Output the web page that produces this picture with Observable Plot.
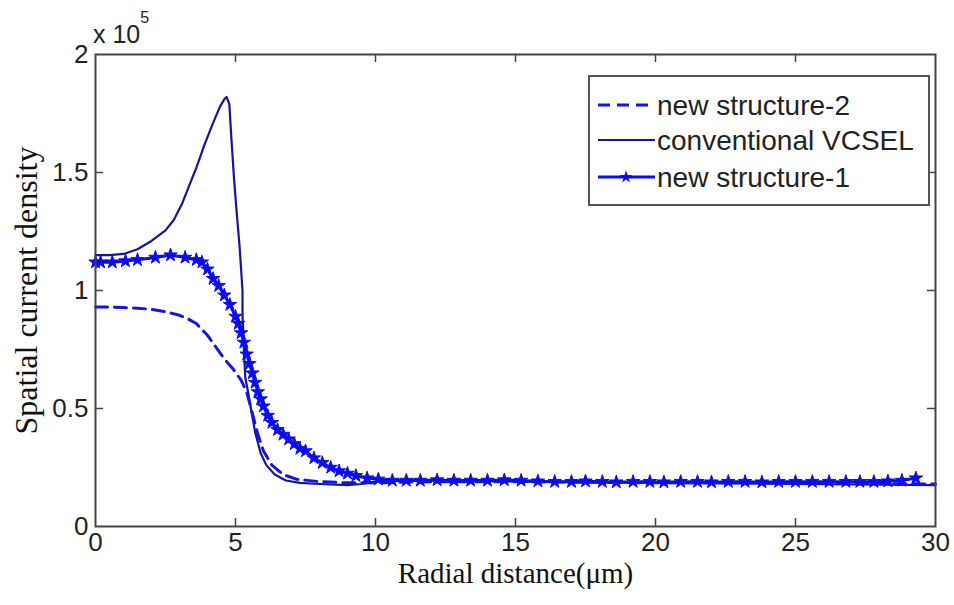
<!DOCTYPE html>
<html><head><meta charset="utf-8">
<script src="https://cdn.jsdelivr.net/npm/d3@7"></script>
<script src="https://cdn.jsdelivr.net/npm/@observablehq/plot@0.6"></script>
<style>
body{margin:0;background:#fff;}
#wrap{position:relative;width:954px;height:605px;background:#fff;}
#overlay{position:absolute;left:0;top:0;pointer-events:none;}
</style></head><body><div id="wrap"></div>
<script>
// axis ticks
const xTicks = [0, 5, 10, 15, 20, 25, 30];
const yTicks = [0, 0.5, 1, 1.5, 2];
const xLabel = "Radial distance(\u03bcm)";
const yLabel = "Spatial current density";
const yMultiplier = "x 10";
const yExponent = "5";
const seriesNames = ["new structure-2", "conventional VCSEL", "new structure-1"];
const seriesColors = ["#1414e6", "#15159c", "#0c0cf0"];

// values in units of 1e5
const ns2X = [0, 0.5, 1, 1.5, 2, 2.5, 3, 3.3, 3.6, 4.0, 4.3, 4.6, 4.9, 5.2, 5.4, 5.6, 5.8, 6.0, 6.3, 6.7, 7.2, 8, 9, 10, 12, 15, 20, 25, 30];
const ns2Y = [0.93, 0.93, 0.928, 0.925, 0.92, 0.91, 0.895, 0.88, 0.86, 0.81, 0.76, 0.71, 0.67, 0.62, 0.57, 0.48, 0.39, 0.32, 0.26, 0.22, 0.2, 0.19, 0.185, 0.185, 0.19, 0.19, 0.185, 0.185, 0.18];

const convX = [0, 0.5, 1.0, 1.5, 2.0, 2.5, 2.8, 3.1, 3.4, 3.6, 3.9, 4.2, 4.45, 4.6, 4.68, 4.78, 4.85, 4.95, 5.05, 5.15, 5.25, 5.25, 5.3, 5.35, 5.45, 5.55, 5.7, 5.9, 6.1, 6.4, 6.8, 7.3, 8, 9, 9.5, 10, 11, 13, 15, 20, 25, 30];
const convY = [1.15, 1.15, 1.155, 1.175, 1.21, 1.255, 1.30, 1.37, 1.46, 1.52, 1.62, 1.71, 1.78, 1.81, 1.82, 1.79, 1.65, 1.47, 1.32, 1.18, 1.0, 0.9, 0.75, 0.63, 0.57, 0.5, 0.4, 0.31, 0.26, 0.22, 0.195, 0.185, 0.18, 0.175, 0.18, 0.19, 0.195, 0.195, 0.19, 0.185, 0.18, 0.175];

const ns1X = [0, 0.18, 0.6, 1.07, 1.5, 2.14, 2.68, 3.2, 3.6, 3.8, 4.0, 4.2, 4.4, 4.6, 4.8, 5.0, 5.1, 5.2, 5.3, 5.4, 5.5, 5.6, 5.7, 5.8, 5.9, 6.0, 6.15, 6.3, 6.5, 6.7, 6.9, 7.1, 7.3, 7.5, 7.8, 8.1, 8.4, 8.7, 9.0, 9.3, 9.7, 10.1, 10.6, 11.1, 11.6, 12.2, 12.8, 13.4, 14.0, 14.6, 15.2, 15.8, 16.4, 17.0, 17.5, 18.1, 18.6, 19.2, 19.8, 20.3, 20.9, 21.5, 22.0, 22.6, 23.2, 23.8, 24.4, 25.0, 25.6, 26.2, 26.8, 27.3, 27.8, 28.3, 28.8, 29.3];
const ns1Y = [1.12, 1.12, 1.12, 1.125, 1.13, 1.14, 1.15, 1.14, 1.13, 1.12, 1.09, 1.05, 1.02, 0.98, 0.94, 0.89, 0.86, 0.82, 0.78, 0.73, 0.69, 0.65, 0.61, 0.57, 0.54, 0.51, 0.47, 0.44, 0.41, 0.39, 0.37, 0.35, 0.33, 0.32, 0.29, 0.27, 0.25, 0.235, 0.225, 0.215, 0.205, 0.2, 0.195, 0.195, 0.195, 0.197, 0.195, 0.195, 0.195, 0.197, 0.195, 0.192, 0.19, 0.19, 0.192, 0.19, 0.188, 0.19, 0.19, 0.188, 0.19, 0.19, 0.188, 0.19, 0.19, 0.188, 0.19, 0.19, 0.19, 0.19, 0.19, 0.19, 0.19, 0.192, 0.195, 0.205];

const ns2 = ns2X.map((x, i) => ({x, y: ns2Y[i]}));
const conv = convX.map((x, i) => ({x, y: convY[i]}));
const ns1 = ns1X.map((x, i) => ({x, y: ns1Y[i]}));

const W = 954, H = 605, mL = 95, mR = 19, mT = 54, mB = 79;
const frameH = H - mT - mB, frameW = W - mL - mR;
const tickLen = 8;
const inner = (a) => a.slice(1, -1);

const plot = Plot.plot({
  width: W, height: H,
  marginLeft: mL, marginRight: mR, marginTop: mT, marginBottom: mB,
  x: {domain: [0, 30]},
  y: {domain: [0, 2]},
  style: {fontFamily: "'Liberation Sans', Arial, sans-serif", fontSize: "26px", color: "#222", background: "#fff"},
  marks: [
    Plot.ruleX(inner(xTicks), {x: d => d, insetTop: frameH - tickLen, stroke: "#444", strokeWidth: 1.5}),
    Plot.ruleX(inner(xTicks), {x: d => d, insetBottom: frameH - tickLen, stroke: "#444", strokeWidth: 1.5}),
    Plot.ruleY(inner(yTicks), {y: d => d, insetRight: frameW - tickLen, stroke: "#444", strokeWidth: 1.5}),
    Plot.ruleY(inner(yTicks), {y: d => d, insetLeft: frameW - tickLen, stroke: "#444", strokeWidth: 1.5}),
    Plot.line(conv, {x: "x", y: "y", stroke: seriesColors[1], strokeWidth: 2.2}),
    Plot.line(ns2, {x: "x", y: "y", stroke: seriesColors[0], strokeWidth: 3, strokeDasharray: "12,7"}),
    Plot.line(ns1, {x: "x", y: "y", stroke: seriesColors[2], strokeWidth: 3}),
    Plot.dot(ns1, {x: "x", y: "y", symbol: "star", r: 4.2, fill: seriesColors[2], stroke: seriesColors[2], strokeWidth: 1}),
    Plot.frame({stroke: "#444", strokeWidth: 2}),
    Plot.axisX({ticks: xTicks, tickSize: 0, tickPadding: 6, label: null, fontSize: 26}),
    Plot.axisY({ticks: yTicks, tickSize: 0, tickPadding: 7, label: null, fontSize: 26, tickFormat: d => String(d)}),
    Plot.text([xLabel], {frameAnchor: "bottom", dy: 56, text: d => d, fontFamily: "'Liberation Serif', 'Times New Roman', serif", fontSize: 29, fill: "#111"}),
    Plot.text([yLabel], {frameAnchor: "left", textAnchor: "middle", dx: -69, rotate: -90, text: d => d, fontFamily: "'Liberation Serif', 'Times New Roman', serif", fontSize: 32, fill: "#111"})
  ]
});
document.getElementById("wrap").appendChild(plot);

// overlay: multiplier + legend
const svg = d3.select("#wrap").append("svg").attr("id", "overlay").attr("width", W).attr("height", H);
const mult = svg.append("text").attr("x", 93).attr("y", 43)
  .attr("font-family", "'Liberation Sans', Arial, sans-serif").attr("font-size", 25).attr("fill", "#222");
mult.append("tspan").text(yMultiplier);
mult.append("tspan").attr("dy", -20).attr("font-size", 16).text(yExponent);

const lg = svg.append("g").attr("transform", "translate(589,76)");
lg.append("rect").attr("width", 340).attr("height", 129).attr("fill", "#fff").attr("stroke", "#555").attr("stroke-width", 2);
const rowsY = [29, 64, 101];
seriesNames.forEach((name, i) => {
  const g = lg.append("g").attr("transform", `translate(0,${rowsY[i]})`);
  const ln = g.append("line").attr("x1", 9).attr("x2", 66).attr("y1", 0).attr("y2", 0)
    .attr("stroke", seriesColors[i]).attr("stroke-width", i === 1 ? 2.2 : 3);
  if (i === 0) ln.attr("stroke-dasharray", "12,7");
  if (i === 2) g.append("path").attr("d", d3.symbol(d3.symbolStar, 50)()).attr("transform", "translate(37,0)").attr("fill", seriesColors[i]);
  g.append("text").attr("x", 68).attr("y", 0).attr("dy", "0.35em")
    .attr("font-family", "'Liberation Sans', Arial, sans-serif").attr("font-size", 28).attr("fill", "#222").text(name);
});
</script>
</body></html>
